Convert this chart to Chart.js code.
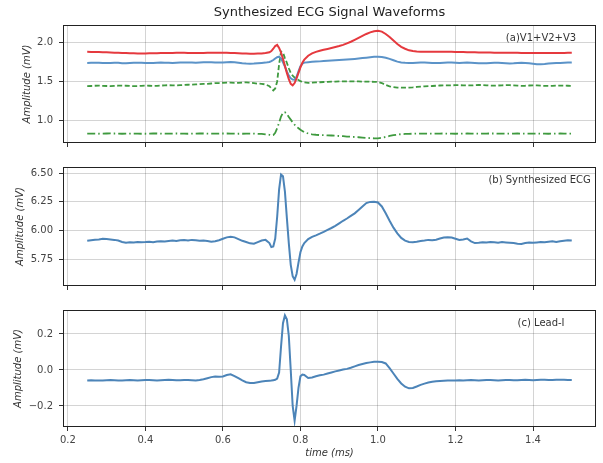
<!DOCTYPE html>
<html><head><meta charset="utf-8">
<script src="https://cdn.jsdelivr.net/npm/chart.js@4.4.1/dist/chart.umd.min.js"></script>
<style>
html,body{margin:0;padding:0;background:#fff;}
#wrap{position:relative;width:603px;height:463px;overflow:hidden;}
canvas{position:absolute;left:0;top:0;}
</style></head><body><div id="wrap">
<canvas id="c1" width="603" height="463"></canvas>
<canvas id="c2" width="603" height="463"></canvas>
<canvas id="c3" width="603" height="463"></canvas>
</div>
<script>
// ---- data ----
const times = [
0.25,0.26,0.27,0.28,0.29,0.30,0.31,0.32,0.33,0.34,
0.35,0.36,0.37,0.38,0.39,0.40,0.41,0.42,0.43,0.44,
0.45,0.46,0.47,0.48,0.49,0.50,0.51,0.52,0.53,0.54,
0.55,0.56,0.57,0.58,0.59,0.60,0.61,0.62,0.63,0.64,
0.65,0.66,0.67,0.68,0.69,0.70,
0.71,0.72,0.725,0.73,0.735,0.74,0.745,0.75,0.755,0.76,
0.765,0.77,0.775,0.78,0.785,0.79,0.795,0.80,0.805,
0.81,0.82,0.83,0.84,0.85,0.86,0.87,0.88,0.89,0.90,
0.91,0.92,0.93,0.94,0.95,0.96,0.97,0.98,0.99,1.00,
1.01,1.02,1.03,1.04,1.05,1.06,1.07,1.08,1.09,1.10,
1.11,1.12,1.13,1.14,1.15,1.16,1.17,1.18,1.19,1.20,
1.21,1.22,1.23,1.24,1.25,1.26,1.27,1.28,1.29,1.30,
1.31,1.32,1.33,1.34,1.35,1.36,1.37,1.38,1.39,1.40,
1.41,1.42,1.43,1.44,1.45,1.46,1.47,1.48,1.49,1.50];

const panelA_red = [
1.880,1.879,1.878,1.877,1.876,1.874,1.872,1.870,1.868,1.866,
1.864,1.862,1.861,1.860,1.860,1.860,1.861,1.862,1.863,1.864,
1.865,1.866,1.867,1.868,1.868,1.868,1.867,1.866,1.866,1.866,
1.867,1.868,1.869,1.870,1.870,1.869,1.868,1.866,1.864,1.862,
1.860,1.858,1.857,1.857,1.858,1.860,
1.865,1.875,1.890,1.920,1.955,1.970,1.930,1.870,1.790,1.700,
1.610,1.530,1.470,1.450,1.480,1.540,1.610,1.680,1.740,
1.780,1.830,1.860,1.880,1.895,1.907,1.918,1.930,1.942,1.955,
1.970,1.990,2.010,2.035,2.060,2.085,2.110,2.130,2.145,2.150,
2.140,2.110,2.070,2.025,1.980,1.945,1.920,1.900,1.890,1.885,
1.882,1.880,1.880,1.880,1.880,1.880,1.881,1.881,1.880,1.879,
1.878,1.877,1.876,1.875,1.874,1.873,1.872,1.872,1.871,1.870,
1.870,1.869,1.869,1.868,1.868,1.868,1.867,1.867,1.867,1.866,
1.866,1.866,1.866,1.866,1.866,1.867,1.867,1.867,1.868,1.868];

const panelA_blue = [
1.738,1.740,1.741,1.739,1.737,1.736,1.738,1.741,1.739,1.735,
1.733,1.736,1.739,1.741,1.740,1.737,1.736,1.738,1.740,1.742,
1.741,1.739,1.738,1.740,1.743,1.745,1.744,1.742,1.741,1.743,
1.746,1.748,1.747,1.745,1.742,1.744,1.748,1.750,1.746,1.740,
1.734,1.730,1.728,1.730,1.734,1.738,
1.742,1.750,1.760,1.775,1.795,1.812,1.818,1.795,1.745,1.690,
1.630,1.575,1.540,1.525,1.522,1.560,1.630,1.695,1.728,
1.742,1.748,1.752,1.755,1.758,1.762,1.765,1.768,1.772,1.775,
1.778,1.782,1.786,1.790,1.795,1.800,1.806,1.812,1.816,1.818,
1.815,1.805,1.790,1.772,1.755,1.745,1.740,1.738,1.738,1.740,
1.742,1.743,1.741,1.738,1.736,1.738,1.741,1.743,1.742,1.739,
1.737,1.739,1.742,1.741,1.738,1.735,1.733,1.735,1.738,1.740,
1.739,1.736,1.733,1.731,1.733,1.737,1.740,1.738,1.734,1.728,
1.722,1.720,1.724,1.730,1.735,1.737,1.738,1.740,1.742,1.744];

const panelA_dashed = [
1.440,1.442,1.445,1.446,1.444,1.442,1.441,1.443,1.446,1.447,
1.445,1.442,1.440,1.441,1.444,1.446,1.445,1.443,1.444,1.447,
1.450,1.452,1.451,1.450,1.452,1.455,1.458,1.460,1.462,1.465,
1.468,1.470,1.474,1.478,1.480,1.482,1.484,1.485,1.482,1.483,
1.486,1.488,1.485,1.478,1.472,1.470,
1.462,1.440,1.410,1.385,1.410,1.500,1.720,1.885,1.870,1.800,
1.740,1.670,1.610,1.575,1.550,1.532,1.518,1.505,1.495,
1.488,1.482,1.485,1.488,1.490,1.493,1.495,1.497,1.498,1.500,
1.501,1.502,1.501,1.500,1.500,1.499,1.498,1.497,1.496,1.494,
1.480,1.455,1.438,1.428,1.422,1.420,1.420,1.422,1.425,1.430,
1.434,1.437,1.440,1.442,1.445,1.448,1.450,1.450,1.451,1.452,
1.452,1.451,1.450,1.449,1.452,1.455,1.454,1.451,1.448,1.446,
1.448,1.451,1.453,1.452,1.449,1.446,1.444,1.445,1.448,1.450,
1.449,1.446,1.444,1.443,1.444,1.446,1.447,1.446,1.445,1.444];

const panelA_dashdot = [
0.830,0.831,0.830,0.829,0.830,0.832,0.833,0.832,0.830,0.829,
0.830,0.831,0.831,0.830,0.829,0.829,0.830,0.832,0.832,0.831,
0.830,0.830,0.831,0.832,0.831,0.830,0.829,0.830,0.831,0.832,
0.832,0.831,0.830,0.830,0.831,0.832,0.832,0.831,0.830,0.829,
0.829,0.830,0.831,0.830,0.828,0.826,
0.822,0.815,0.810,0.812,0.840,0.900,0.970,1.050,1.100,1.105,
1.080,1.045,1.010,0.975,0.945,0.920,0.900,0.880,0.865,
0.850,0.832,0.822,0.816,0.812,0.810,0.808,0.806,0.803,0.800,
0.797,0.793,0.790,0.787,0.784,0.780,0.776,0.773,0.770,0.770,
0.778,0.788,0.800,0.810,0.818,0.823,0.826,0.828,0.829,0.830,
0.831,0.830,0.830,0.829,0.830,0.831,0.832,0.831,0.830,0.829,
0.830,0.831,0.832,0.831,0.830,0.829,0.830,0.831,0.832,0.832,
0.831,0.830,0.829,0.830,0.831,0.832,0.831,0.830,0.830,0.831,
0.832,0.831,0.830,0.829,0.830,0.831,0.832,0.831,0.830,0.830];

const synthesizedEcg = [
5.910,5.915,5.920,5.922,5.928,5.925,5.922,5.918,5.912,5.900,
5.893,5.898,5.896,5.900,5.897,5.899,5.902,5.898,5.903,5.906,
5.904,5.909,5.912,5.908,5.914,5.916,5.912,5.918,5.914,5.910,
5.913,5.908,5.902,5.906,5.915,5.928,5.940,5.946,5.940,5.925,
5.910,5.900,5.888,5.884,5.898,5.912,
5.918,5.890,5.855,5.860,5.930,6.120,6.360,6.490,6.475,6.340,
6.110,5.890,5.700,5.600,5.570,5.620,5.720,5.810,5.860,
5.890,5.925,5.945,5.958,5.972,5.988,6.005,6.022,6.040,6.062,
6.085,6.105,6.128,6.150,6.180,6.210,6.240,6.250,6.252,6.245,
6.210,6.150,6.085,6.025,5.975,5.935,5.912,5.900,5.898,5.902,
5.908,5.912,5.918,5.915,5.920,5.930,5.938,5.942,5.938,5.928,
5.918,5.922,5.930,5.905,5.890,5.893,5.898,5.895,5.900,5.897,
5.894,5.899,5.896,5.893,5.890,5.885,5.882,5.890,5.896,5.892,
5.896,5.900,5.897,5.902,5.905,5.900,5.906,5.910,5.914,5.912];

const leadI = [
-0.058,-0.057,-0.058,-0.059,-0.058,-0.057,-0.056,-0.057,-0.058,-0.058,
-0.057,-0.056,-0.057,-0.058,-0.057,-0.056,-0.056,-0.057,-0.058,-0.057,
-0.056,-0.055,-0.056,-0.057,-0.057,-0.056,-0.056,-0.057,-0.058,-0.056,
-0.052,-0.046,-0.040,-0.036,-0.038,-0.036,-0.028,-0.024,-0.034,-0.046,
-0.058,-0.068,-0.073,-0.072,-0.068,-0.064,
-0.062,-0.060,-0.059,-0.057,-0.055,-0.048,-0.015,0.130,0.260,0.303,
0.282,0.190,0.000,-0.200,-0.282,-0.200,-0.100,-0.035,-0.026,
-0.028,-0.045,-0.042,-0.035,-0.030,-0.026,-0.020,-0.014,-0.008,-0.003,
0.002,0.006,0.012,0.020,0.027,0.033,0.038,0.042,0.045,0.046,
0.044,0.036,0.010,-0.020,-0.050,-0.075,-0.093,-0.102,-0.100,-0.092,
-0.083,-0.076,-0.070,-0.066,-0.063,-0.061,-0.060,-0.059,-0.058,-0.058,
-0.057,-0.058,-0.057,-0.056,-0.057,-0.058,-0.057,-0.056,-0.056,-0.057,
-0.058,-0.057,-0.056,-0.056,-0.057,-0.057,-0.056,-0.055,-0.056,-0.057,
-0.056,-0.055,-0.055,-0.056,-0.056,-0.055,-0.054,-0.055,-0.056,-0.056];

const xTickValues = [0.2,0.4,0.6,0.8,1.0,1.2,1.4];
const yTicksA = [1.0,1.5,2.0];
const yTicksB = [5.75,6.00,6.25,6.50];
const yTicksC = [-0.2,0.0,0.2];
const chartTitle = 'Synthesized ECG Signal Waveforms';
const yAxisTitle = 'Amplitude (mV)';
const xAxisTitle = 'time (ms)';
const notes = ['(a)V1+V2+V3','(b) Synthesized ECG','(c) Lead-I'];

// ---- drawing ----
const FONT = 'DejaVu Sans';
const W = 603, H = 463, LEFT = 63, RIGHT = 596;
const pts = arr => times.map((t,i)=>({x:t,y:arr[i]}));
const minus = v => (v < 0 ? '\u2212' : '') + Math.abs(v);

function makeChart(id, o) {
  const deco = {
    id: 'deco' + id,
    afterDraw(chart) {
      const {ctx, chartArea:a} = chart;
      ctx.save();
      ctx.strokeStyle = '#222'; ctx.lineWidth = 1;
      ctx.strokeRect(a.left + 0.5, a.top + 0.5, a.right - a.left - 1, a.bottom - a.top - 1);
      // note
      ctx.save();
      ctx.beginPath(); ctx.rect(a.left, a.top, a.right - a.left, a.bottom - a.top); ctx.clip();
      ctx.fillStyle = '#333'; ctx.font = '10px "' + FONT + '"';
      ctx.textAlign = 'left'; ctx.textBaseline = 'middle';
      ctx.fillText(o.note, chart.scales.x.getPixelForValue(o.noteX), a.top + 13);
      ctx.restore();
      // y title
      ctx.save();
      ctx.translate(o.ylabX, (a.top + a.bottom) / 2);
      ctx.rotate(-Math.PI / 2);
      ctx.fillStyle = '#333'; ctx.font = 'italic 10px "' + FONT + '"';
      ctx.textAlign = 'center'; ctx.textBaseline = 'middle';
      ctx.fillText(yAxisTitle, 0, 0);
      ctx.restore();
      if (o.title) {
        ctx.fillStyle = '#222'; ctx.font = '13px "' + FONT + '"';
        ctx.textAlign = 'center'; ctx.textBaseline = 'middle';
        ctx.fillText(chartTitle, (a.left + a.right) / 2, 13);
      }
      if (o.showX) {
        ctx.fillStyle = '#333'; ctx.font = 'italic 10px "' + FONT + '"';
        ctx.textAlign = 'center'; ctx.textBaseline = 'middle';
        ctx.fillText(xAxisTitle, (a.left + a.right) / 2, 453);
      }
      ctx.restore();
    }
  };
  const gridOpts = {color:'rgba(0,0,0,0.17)', lineWidth:1, drawTicks:true, tickLength:4, tickColor:'#333'};
  return new Chart(document.getElementById(id), {
    type: 'line',
    data: {datasets: o.datasets},
    options: {
      responsive:false, animation:false, devicePixelRatio:1,
      layout: {padding: {top:o.top, left:0, right:W - RIGHT, bottom:H - o.bottom - o.xh}},
      plugins: {legend:{display:false}, tooltip:{enabled:false}, title:{display:false}},
      elements: {point:{radius:0}, line:{tension:0}},
      scales: {
        x: {
          type:'linear', min:0.1875, max:1.5625,
          afterBuildTicks: s => { s.ticks = xTickValues.map(v=>({value:v})); },
          afterFit: s => { s.height = o.xh; },
          grid: gridOpts, border:{display:false},
          ticks: {display:o.showX, autoSkip:false, maxRotation:0, padding:3, color:'#444',
                  font:{family:FONT, size:10}, callback: v => Number(v).toFixed(1)}
        },
        y: {
          type:'linear', min:o.yMin, max:o.yMax,
          afterBuildTicks: s => { s.ticks = o.yTicks.map(v=>({value:v})); },
          afterFit: s => { s.width = LEFT; },
          grid: gridOpts, border:{display:false},
          ticks: {padding:6, color:'#444', font:{family:FONT, size:10}, callback: o.fmt}
        }
      }
    },
    plugins: [deco]
  });
}

makeChart('c1', {
  top:25, bottom:143, xh:8, showX:false, title:true, ylabX:27,
  yMin:0.71, yMax:2.225, yTicks:yTicksA, fmt: v => Number(v).toFixed(1),
  note:notes[0], noteX:1.33,
  datasets: [
    {data:pts(panelA_red), borderColor:'#e5393e', borderWidth:2},
    {data:pts(panelA_blue), borderColor:'#5b93c8', borderWidth:2},
    {data:pts(panelA_dashed), borderColor:'#3f9a3f', borderWidth:1.8, borderDash:[5,2.5]},
    {data:pts(panelA_dashdot), borderColor:'#3f9a3f', borderWidth:1.8, borderDash:[8,3,1.5,3]}
  ]
});
makeChart('c2', {
  top:167, bottom:286, xh:8, showX:false, title:false, ylabX:20,
  yMin:5.515, yMax:6.555, yTicks:yTicksB, fmt: v => Number(v).toFixed(2),
  note:notes[1], noteX:1.285,
  datasets: [{data:pts(synthesizedEcg), borderColor:'#4c84b8', borderWidth:2}]
});
makeChart('c3', {
  top:310, bottom:427, xh:20, showX:true, title:false, ylabX:18,
  yMin:-0.317, yMax:0.333, yTicks:yTicksC, fmt: v => minus(Number(Number(v).toFixed(1))).replace(/^(\u2212?\d+)$/, '$1.0'),
  note:notes[2], noteX:1.36,
  datasets: [{data:pts(leadI), borderColor:'#4c84b8', borderWidth:2}]
});
</script></body></html>
